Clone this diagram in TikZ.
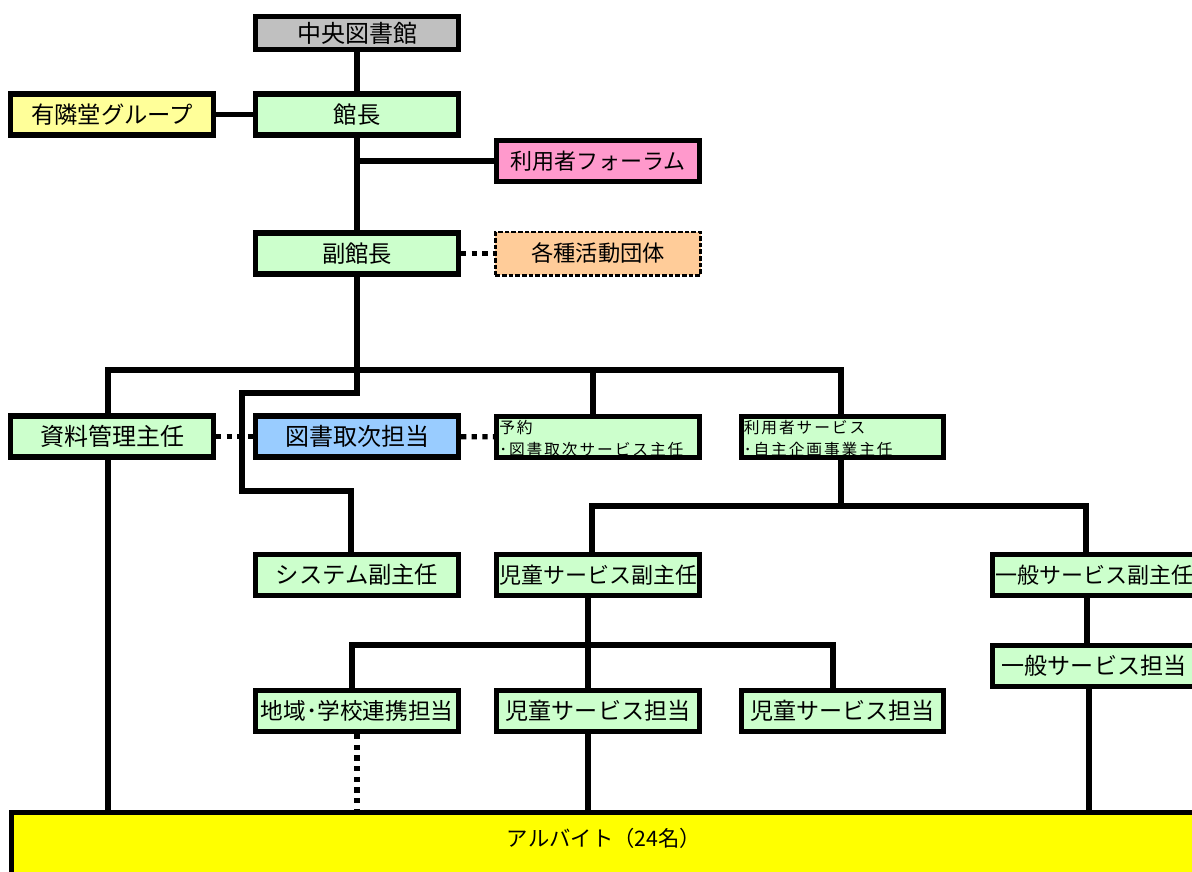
\documentclass[tikz,border=0pt]{standalone}
\usepackage{fontspec}
\setmainfont{Noto Sans CJK JP}
\newfontfamily\spacedcjk[LetterSpace=12]{Noto Sans CJK JP}
\definecolor{grayc}{HTML}{C0C0C0}
\definecolor{greenc}{HTML}{CCFFCC}
\definecolor{lyellow}{HTML}{FFFF99}
\definecolor{pinkc}{HTML}{FF99CC}
\definecolor{orangec}{HTML}{FFCC99}
\definecolor{bluec}{HTML}{99CCFF}
\definecolor{byellow}{HTML}{FFFF00}
\begin{document}
\begin{tikzpicture}[x=0.75pt,y=-0.75pt,
  box/.style={draw, line width=3.9pt, fill=greenc, minimum width=152pt, minimum height=30.75pt,
    inner sep=0pt, font=\fontsize{17.5pt}{20pt}\selectfont},
  smallbox/.style={box, align=left, text width=148pt, inner xsep=2pt, font=\spacedcjk\fontsize{11.8pt}{16pt}\selectfont},
  ln/.style={line width=3.9pt},
  dotln/.style={line width=3.9pt, dash pattern=on 4pt off 4pt}]
\useasboundingbox (0,0) rectangle (1192,871);
\clip (0,0) rectangle (1192,871);
\fill[white] (0,0) rectangle (1192,871);

% nodes
\node[box, fill=grayc, minimum height=24.75pt, font=\fontsize{18pt}{20pt}\selectfont] (chuo) at (357,33) {中央図書館};
\node[box, fill=lyellow] (yurin) at (112,114.5) {有隣堂グループ};
\node[box] (kancho) at (357,114.5) {館長};
\node[box, fill=pinkc, font=\fontsize{16.5pt}{20pt}\selectfont] (forum) at (598,161) {利用者フォーラム};
\node[box] (fuku) at (357,253.5) {副館長};
\node[box, fill=orangec, line width=2pt, dash pattern=on 3.5pt off 1.5pt, minimum width=154pt, minimum height=32.5pt,
  font=\fontsize{16.7pt}{20pt}\selectfont] (kakushu) at (598,253.5) {各種活動団体};
\node[box, font=\fontsize{18pt}{20pt}\selectfont] (shiryo) at (112,436.5) {資料管理主任};
\node[box, fill=bluec, font=\fontsize{18pt}{20pt}\selectfont] (torit) at (357,436.5) {図書取次担当};
\node[smallbox] (yoyaku) at (598,437) {\rule{0pt}{12pt}予約\\･図書取次サービス主任};
\node[smallbox] (riyo) at (842.5,437) {\rule{0pt}{12pt}利用者サービス\\･自主企画事業主任};
\node[box] (system) at (357,575) {システム副主任};
\node[box, font=\fontsize{16.5pt}{20pt}\selectfont] (jidofuku) at (598,575) {児童サービス副主任};
\node[box, font=\fontsize{16.5pt}{20pt}\selectfont] (ippanfuku) at (1094,575) {一般サービス副主任};
\node[box, font=\fontsize{17.3pt}{20pt}\selectfont] (ippantanto) at (1094,666) {一般サービス担当};
\node[box, font=\fontsize{17pt}{20pt}\selectfont] (chiiki) at (357,711) {地域･学校連携担当};
\node[box, font=\fontsize{17.3pt}{20pt}\selectfont] (jido1) at (598,711) {児童サービス担当};
\node[box, font=\fontsize{17.3pt}{20pt}\selectfont] (jido2) at (842.5,711) {児童サービス担当};
\node[box, fill=byellow, minimum width=888.75pt, minimum height=63.75pt, font=\fontsize{16pt}{18pt}\selectfont]
  (arb) at (604,855) {\raisebox{6.5pt}[0pt][0pt]{アルバイト（24名）}};

% coordinates
\coordinate (s1) at (357,393);
\coordinate (s2) at (242,393);
\coordinate (s3) at (242,491);
\coordinate (s4) at (351,491);
\coordinate (bL) at (108,370);
\coordinate (bM) at (593,370);
\coordinate (bR) at (841,370);
\coordinate (c1) at (592,506);
\coordinate (c2) at (1086,506);
\coordinate (d1) at (352,645);
\coordinate (dm) at (588,645);
\coordinate (d2) at (833,645);
\coordinate (e1) at (1087,600);
\coordinate (e2) at (1089,700);

% connectors
\draw[ln] (chuo) -- (kancho);
\draw[ln] (yurin) -- (kancho);
\draw[ln] (kancho) -- (fuku);
\draw[ln] (kancho.south |- forum.west) -- (forum.west);
\draw[dotln] (fuku) -- (kakushu);
\draw[ln] (fuku.south) -- (s1) -- (s2) -- (s3) -- (s4) -- (s4 |- system.north);
\draw[ln] (bL |- shiryo.north) -- (bL) -- (bR) -- (bR |- riyo.north);
\draw[ln] (bM) -- (bM |- yoyaku.north);
\draw[dotln] (shiryo) -- (torit);
\draw[dotln] (torit) -- (yoyaku);
\draw[ln] (c1 |- jidofuku.north) -- (c1) -- (c2) -- (c2 |- ippanfuku.north);
\draw[ln] (riyo.south -| bR) -- (bR |- c1);
\draw[ln] (d1 |- chiiki.north) -- (d1) -- (d2) -- (d2 |- jido2.north);
\draw[ln] (dm |- jidofuku.south) -- (dm |- jido1.north);
\draw[ln] (e1 |- ippanfuku.south) -- (e1 |- ippantanto.north);
\draw[ln] (e2 |- ippantanto.south) -- (e2 |- arb.north);
\draw[ln] (bL |- shiryo.south) -- (bL |- arb.north);
\draw[dotln] (chiiki.south) -- (chiiki.south |- arb.north);
\draw[ln] (dm |- jido1.south) -- (dm |- arb.north);
\end{tikzpicture}
\end{document}
